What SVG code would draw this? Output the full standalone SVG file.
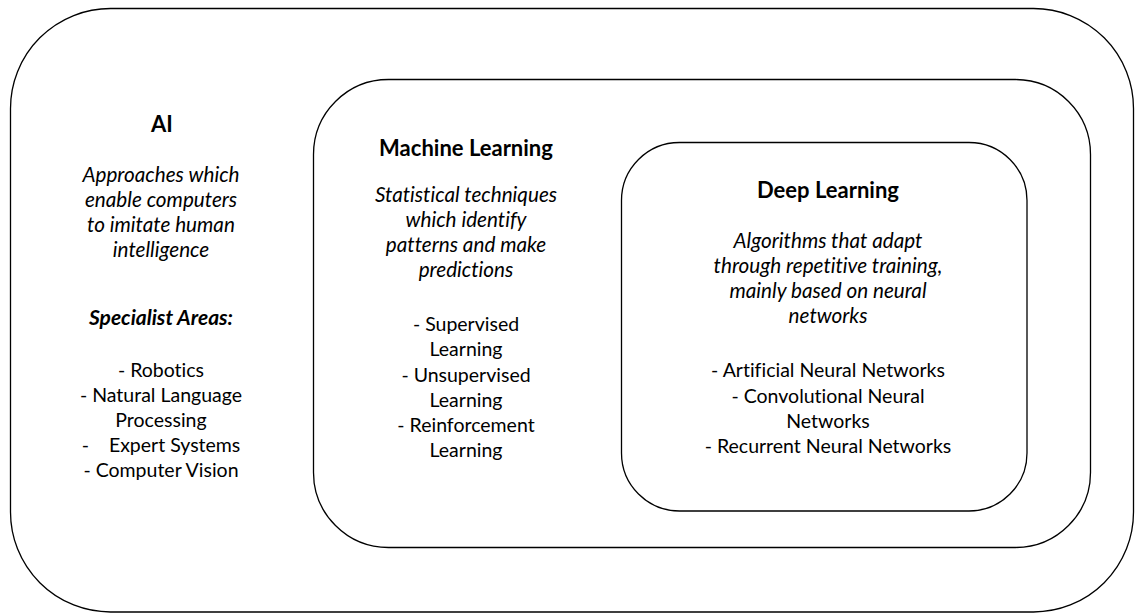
<svg xmlns="http://www.w3.org/2000/svg" width="1135" height="614" viewBox="0 0 1135 614">
<style>
.box{fill:#ffffff;stroke:#000000;stroke-width:1.3}
text{font-family:Lato,"Open Sans","Liberation Sans",sans-serif;fill:#000000;text-anchor:middle;font-variant-ligatures:none}
.t{font-weight:bold;font-size:22px}
.d{font-style:italic;font-size:20.7px}
.l{font-size:19.5px}
.s{font-weight:bold;font-style:italic;font-size:21px}
</style>
<rect width="1135" height="614" fill="#ffffff"/>
<g id="ai">
<rect class="box" x="10.5" y="8.5" width="1123" height="603.5" rx="100" ry="100"/>
<text class="t" x="162" y="132">AI</text>
<text class="d"><tspan x="161" y="182">Approaches which</tspan><tspan x="161" y="207">enable computers</tspan><tspan x="161" y="232">to imitate human</tspan><tspan x="161" y="257">intelligence</tspan></text>
<text class="s" x="161" y="325">Specialist Areas:</text>
<text class="l"><tspan x="161" y="377">- Robotics</tspan><tspan x="161" y="402">- Natural Language</tspan><tspan x="161" y="427">Processing</tspan><tspan x="161" y="452" xml:space="preserve">-    Expert Systems</tspan><tspan x="161" y="477">- Computer Vision</tspan></text>
</g>
<g id="ml">
<rect class="box" x="313.5" y="79.5" width="777" height="468" rx="75" ry="75"/>
<text class="t" x="466" y="156">Machine Learning</text>
<text class="d"><tspan x="466" y="202">Statistical techniques</tspan><tspan x="466" y="227">which identify</tspan><tspan x="466" y="252">patterns and make</tspan><tspan x="466" y="277">predictions</tspan></text>
<text class="l"><tspan x="466" y="331">- Supervised</tspan><tspan x="466" y="356">Learning</tspan><tspan x="466" y="381.5">- Unsupervised</tspan><tspan x="466" y="406.5">Learning</tspan><tspan x="466" y="431.5">- Reinforcement</tspan><tspan x="466" y="456.5">Learning</tspan></text>
</g>
<g id="dl">
<rect class="box" x="621.5" y="142.5" width="405.5" height="368.5" rx="58" ry="58"/>
<text class="t" x="828" y="198">Deep Learning</text>
<text class="d"><tspan x="828" y="248">Algorithms that adapt</tspan><tspan x="828" y="273">through repetitive training,</tspan><tspan x="828" y="298">mainly based on neural</tspan><tspan x="828" y="323">networks</tspan></text>
<text class="l"><tspan x="828" y="377">- Artificial Neural Networks</tspan><tspan x="828" y="403">- Convolutional Neural</tspan><tspan x="828" y="428">Networks</tspan><tspan x="828" y="453">- Recurrent Neural Networks</tspan></text>
</g>
<g id="connectors"></g>
</svg>
